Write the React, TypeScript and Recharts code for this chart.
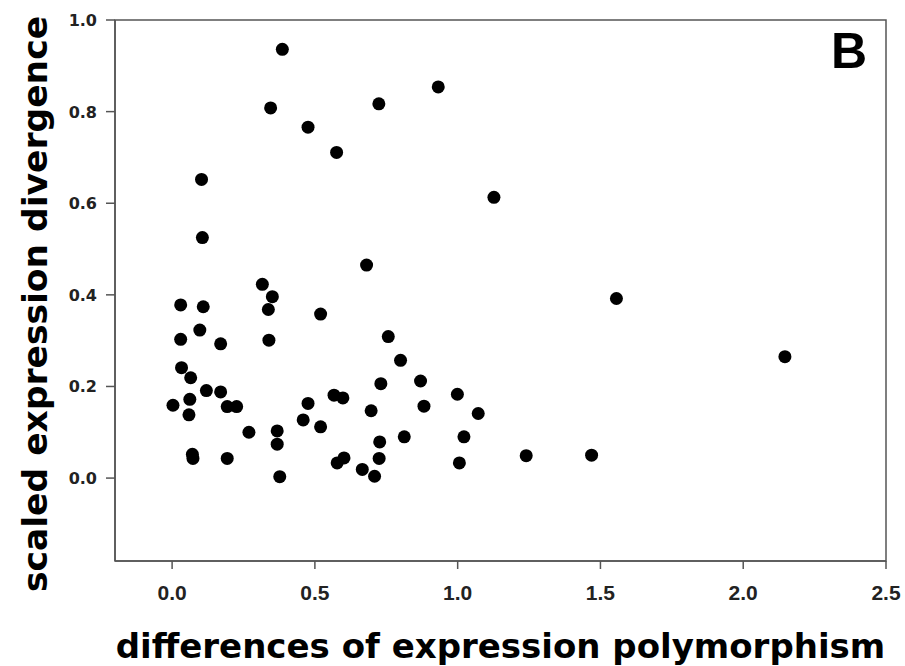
import { ReferenceArea, Scatter, ScatterChart, XAxis, YAxis } from "recharts"

// differences of expression polymorphism (x) vs scaled expression divergence (y)
const polymorphismDiff = [
  0.476, 0.576, 0.724, 0.932, 1.127, 0.386, 0.345, 0.103, 0.106, 1.556, 2.146, 1.469,
  0.03, 0.109, 0.03, 0.097, 0.17, 0.316, 0.351, 0.337, 0.339, 0.033, 0.065, 0.062,
  0.003, 0.12, 0.17, 0.059, 0.193, 0.226, 0.269, 0.368, 0.368, 0.377, 0.071, 0.073,
  0.193, 0.681, 0.52, 0.757, 0.8, 0.731, 0.87, 0.882, 0.999, 1.072, 0.476, 0.567,
  0.598, 0.459, 0.52, 0.697, 0.813, 1.022, 0.727, 0.725, 0.602, 0.578, 0.666, 0.709,
  1.006, 1.24,
]
const divergence = [
  0.766, 0.711, 0.817, 0.854, 0.613, 0.936, 0.808, 0.652, 0.525, 0.392, 0.265, 0.05,
  0.378, 0.374, 0.303, 0.323, 0.293, 0.423, 0.396, 0.368, 0.301, 0.241, 0.219, 0.172,
  0.159, 0.191, 0.188, 0.138, 0.156, 0.156, 0.1, 0.103, 0.074, 0.003, 0.052, 0.043,
  0.043, 0.465, 0.358, 0.309, 0.257, 0.206, 0.212, 0.157, 0.183, 0.141, 0.163, 0.181,
  0.175, 0.127, 0.112, 0.147, 0.09, 0.09, 0.079, 0.043, 0.044, 0.033, 0.019, 0.004,
  0.033, 0.049,
]
const xTicks = [0, 0.5, 1.0, 1.5, 2.0, 2.5]
const yTicks = [0, 0.2, 0.4, 0.6, 0.8, 1.0]

const points = polymorphismDiff.map((x, i) => ({ x, y: divergence[i] }))

const X_DOMAIN: [number, number] = [-0.2, 2.5]
const Y_DOMAIN: [number, number] = [-0.181, 1.0]
const axisColor = "#555555"
const arial = "'Liberation Sans', Arial, sans-serif"
const dejavu = "'DejaVu Sans', sans-serif"

const Dot = (props: any) => <circle cx={props.cx} cy={props.cy} r={6.5} fill="#000" />

// tick labels drawn by hand so the font settings stick
const XTick = ({ x, y, payload }: any) => (
  <text x={x} y={y + 31} textAnchor="middle" fontFamily={arial} fontWeight="bold" fontSize={21} fill="#222">
    {payload.value.toFixed(1)}
  </text>
)

const YTick = ({ x, y, payload }: any) => (
  <text x={x - 9} y={y + 6} textAnchor="end" fontFamily={dejavu} fontWeight="bold" fontSize={16} fill="#222">
    {payload.value.toFixed(1)}
  </text>
)

export default function App() {
  return (
    <div style={{ position: "absolute", left: 0, top: 0, background: "#fff" }}>
      <ScatterChart width={905} height={666} margin={{ top: 20, right: 19, bottom: 0, left: 0 }}>
        <XAxis
          type="number"
          dataKey="x"
          domain={X_DOMAIN}
          ticks={xTicks}
          allowDataOverflow
          height={105}
          tickSize={8}
          tickMargin={0}
          stroke={axisColor}
          strokeWidth={1.5}
          tick={XTick}
          label={{
            content: ({ viewBox }: any) => (
              <text
                x={viewBox.x + viewBox.width / 2}
                y={658}
                textAnchor="middle"
                fontFamily={dejavu}
                fontWeight="bold"
                fontSize={34}
                fill="#000"
              >
                differences of expression polymorphism
              </text>
            ),
          }}
        />
        <YAxis
          type="number"
          dataKey="y"
          domain={Y_DOMAIN}
          ticks={yTicks}
          allowDataOverflow
          width={115}
          tickSize={9}
          tickMargin={0}
          stroke={axisColor}
          strokeWidth={1.5}
          tick={YTick}
          label={{
            content: () => (
              <text
                x={47}
                y={304}
                transform="rotate(-90, 47, 304)"
                textAnchor="middle"
                fontFamily={dejavu}
                fontWeight="bold"
                fontSize={34.5}
                fill="#000"
              >
                scaled expression divergence
              </text>
            ),
          }}
        />
        <ReferenceArea
          x1={X_DOMAIN[0]}
          x2={X_DOMAIN[1]}
          y1={Y_DOMAIN[0]}
          y2={Y_DOMAIN[1]}
          fill="none"
          fillOpacity={0}
          stroke={axisColor}
          strokeWidth={1.5}
          label={{
            content: () => (
              <text x={831} y={68} fontFamily={arial} fontWeight="bold" fontSize={50} fill="#000">
                B
              </text>
            ),
          }}
        />
        <Scatter data={points} shape={Dot} isAnimationActive={false} />
      </ScatterChart>
    </div>
  )
}
